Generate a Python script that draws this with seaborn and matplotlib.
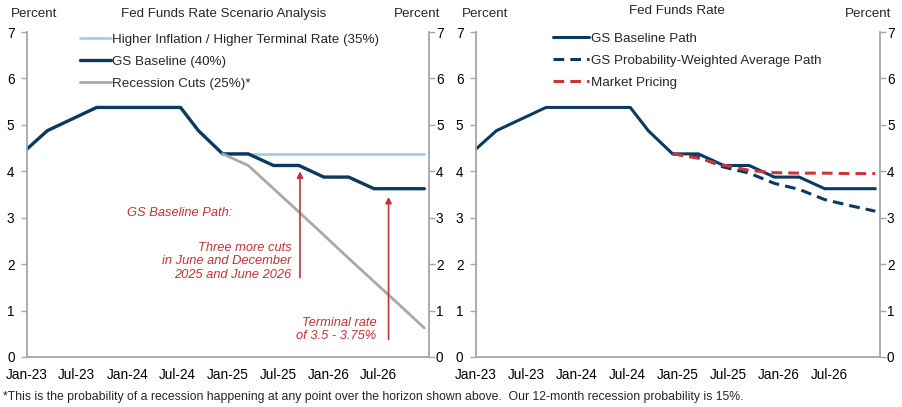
import pandas as pd
import numpy as np
import matplotlib
matplotlib.use("Agg")
import matplotlib.pyplot as plt
import seaborn as sns

sns.set_style("white")
plt.rcParams['font.family'] = ['Liberation Sans', 'DejaVu Sans']

# ---------------- data ----------------
baseline_dates = ["2023-01-01", "2023-03-16", "2023-09-11", "2024-07-12", "2024-09-15",
                  "2024-12-12", "2025-03-15", "2025-06-15", "2025-09-15", "2025-12-15",
                  "2026-03-15", "2026-06-15", "2026-09-15", "2026-12-15"]
baseline_vals = [4.48, 4.875, 5.375, 5.375, 4.875,
                 4.375, 4.375, 4.125, 4.125, 3.875,
                 3.875, 3.625, 3.625, 3.625]

scen_dates = ["2024-12-12", "2025-03-15", "2025-06-15", "2025-09-15", "2025-12-15",
              "2026-03-15", "2026-06-15", "2026-09-15", "2026-12-15"]
higher_infl_vals = [4.375, 4.375, 4.375, 4.375, 4.375, 4.375, 4.375, 4.375, 4.375]
recession_vals = [4.375, 4.125, 3.625, 3.125, 2.625, 2.125, 1.625, 1.125, 0.625]
prob_weighted_vals = [4.375, 4.31, 4.09, 3.96, 3.74, 3.61, 3.39, 3.26, 3.14]
market_vals = [4.38, 4.28, 4.13, 4.02, 3.97, 3.96, 3.96, 3.95, 3.95]

tick_dates = ["2023-01-01", "2023-07-01", "2024-01-01", "2024-07-01", "2025-01-01",
              "2025-07-01", "2026-01-01", "2026-07-01", "2027-01-01"]
tick_labels = ["Jan-23", "Jul-23", "Jan-24", "Jul-24", "Jan-25", "Jul-25", "Jan-26", "Jul-26", ""]

left_labels = ["Higher Inflation / Higher Terminal Rate (35%)", "GS Baseline (40%)", "Recession Cuts (25%)*"]
right_labels = ["GS Baseline Path", "GS Probability-Weighted Average Path", "Market Pricing"]

# ---------------- styles ----------------
NAVY = "#0B3A5E"
LBLUE = "#A6CEEB"
GRAY = "#A9A9A9"
RED = "#C8363C"
ANN = "#C0333A"
SPINE = "#A6A6A6"
FS = 9.6
FS_TICK = 9.8
FS_ANN = 9.3
FS_NOTE = 8.85

df_base = pd.DataFrame({"date": pd.to_datetime(baseline_dates), "val": baseline_vals})
df_scen = pd.DataFrame({"date": pd.to_datetime(scen_dates),
                        "hi": higher_infl_vals, "rec": recession_vals,
                        "pw": prob_weighted_vals, "mkt": market_vals})

W, H = 902, 407
fig = plt.figure(figsize=(W / 100, H / 100), dpi=100)

def px_axes(x0, x1, ytop, ybot):
    return fig.add_axes([x0 / W, 1 - ybot / H, (x1 - x0) / W, (ybot - ytop) / H])

axL = px_axes(27, 429, 32, 357)
axR = px_axes(476, 880, 32, 357)

xmin, xmax = pd.Timestamp("2023-01-01"), pd.Timestamp("2027-01-01")

def style_axes(ax):
    ax.set_xlim(xmin, xmax)
    ax.set_ylim(0, 7)
    ax.set_yticks(range(0, 8))
    ax.set_xticks(pd.to_datetime(tick_dates))
    ax.set_xticklabels(tick_labels)
    ax.set_xlabel("")
    ax.set_ylabel("")
    for s in ["top", "right"]:
        ax.spines[s].set_visible(False)
    for s in ["left", "bottom"]:
        ax.spines[s].set_color(SPINE)
        ax.spines[s].set_linewidth(1.3)
    ax.tick_params(axis="both", which="both", colors=SPINE, labelcolor="black",
                   labelsize=FS_TICK, length=4, width=1, direction="out")
    ax.tick_params(axis="y", pad=5)
    ax.tick_params(axis="x", pad=4)
    ax.grid(False)
    tw = ax.twinx()
    tw.set_ylim(0, 7)
    tw.set_yticks(range(0, 8))
    for s in ["top", "left", "bottom"]:
        tw.spines[s].set_visible(False)
    tw.spines["right"].set_color(SPINE)
    tw.spines["right"].set_linewidth(1.3)
    tw.tick_params(axis="y", colors=SPINE, labelcolor="black", labelsize=FS_TICK,
                   length=4, width=1, direction="out", pad=1)
    tw.grid(False)
    return tw

# ---------------- left panel ----------------
sns.lineplot(data=df_scen, x="date", y="hi", ax=axL, color=LBLUE, lw=2.0, label=left_labels[0])
sns.lineplot(data=df_base, x="date", y="val", ax=axL, color=NAVY, lw=2.4, label=left_labels[1])
sns.lineplot(data=df_scen, x="date", y="rec", ax=axL, color=GRAY, lw=2.0, label=left_labels[2])
style_axes(axL)
leg = axL.legend(loc="upper left", bbox_to_anchor=(0.132, 0.995), frameon=False, fontsize=FS,
                 handlelength=2.3, handletextpad=0.1, labelspacing=0.72, borderpad=0,
                 borderaxespad=0)

arrow = dict(arrowstyle="-|>", color=ANN, lw=1.2, mutation_scale=9, shrinkA=0, shrinkB=0)
axL.annotate("", xy=(pd.Timestamp("2025-09-19"), 4.0), xytext=(pd.Timestamp("2025-09-19"), 1.71),
             arrowprops=arrow)
axL.annotate("", xy=(pd.Timestamp("2026-08-07"), 3.45), xytext=(pd.Timestamp("2026-08-07"), 0.38),
             arrowprops=arrow)
axL.text(pd.Timestamp("2023-12-29"), 3.11, "GS Baseline Path:", color=ANN, style="italic",
         fontsize=FS_ANN, ha="left", va="center")
axL.text(pd.Timestamp("2025-08-20"), 2.06, "Three more cuts\nin June and December\n2025 and June 2026",
         color=ANN, style="italic", fontsize=FS_ANN, ha="right", va="center", multialignment="right",
         linespacing=1.15)
axL.text(pd.Timestamp("2026-06-25"), 0.59, "Terminal rate\nof 3.5 - 3.75%",
         color=ANN, style="italic", fontsize=FS_ANN, ha="right", va="center", multialignment="right",
         linespacing=1.15)

# ---------------- right panel ----------------
sns.lineplot(data=df_base, x="date", y="val", ax=axR, color=NAVY, lw=2.2, label=right_labels[0])
sns.lineplot(data=df_scen, x="date", y="pw", ax=axR, color=NAVY, lw=2.2, label=right_labels[1])
sns.lineplot(data=df_scen, x="date", y="mkt", ax=axR, color=RED, lw=2.2, label=right_labels[2])
axR.lines[1].set_dashes([3.5, 2])
axR.lines[2].set_dashes([3.5, 2])
style_axes(axR)
legR = axR.legend(loc="upper left", bbox_to_anchor=(0.19, 0.998), frameon=False, fontsize=FS,
                  handlelength=2.7, handletextpad=0.2, labelspacing=0.72, borderpad=0,
                  borderaxespad=0)

# ---------------- titles ----------------
def ftext(x, y, s, ha="left", fs=FS, **kw):
    fig.text(x / W, 1 - y / H, s, ha=ha, va="center", fontsize=fs, **kw)

ftext(11, 14, "Percent")
ftext(224, 14, "Fed Funds Rate Scenario Analysis", ha="center")
ftext(440, 14, "Percent", ha="right")
ftext(462, 14, "Percent")
ftext(677, 11, "Fed Funds Rate", ha="center")
ftext(891, 14, "Percent", ha="right")
ftext(3, 397, "*This is the probability of a recession happening at any point over the horizon shown above.  "
              "Our 12-month recession probability is 15%.", fs=FS_NOTE)

fig.savefig("out.png", dpi=100)
